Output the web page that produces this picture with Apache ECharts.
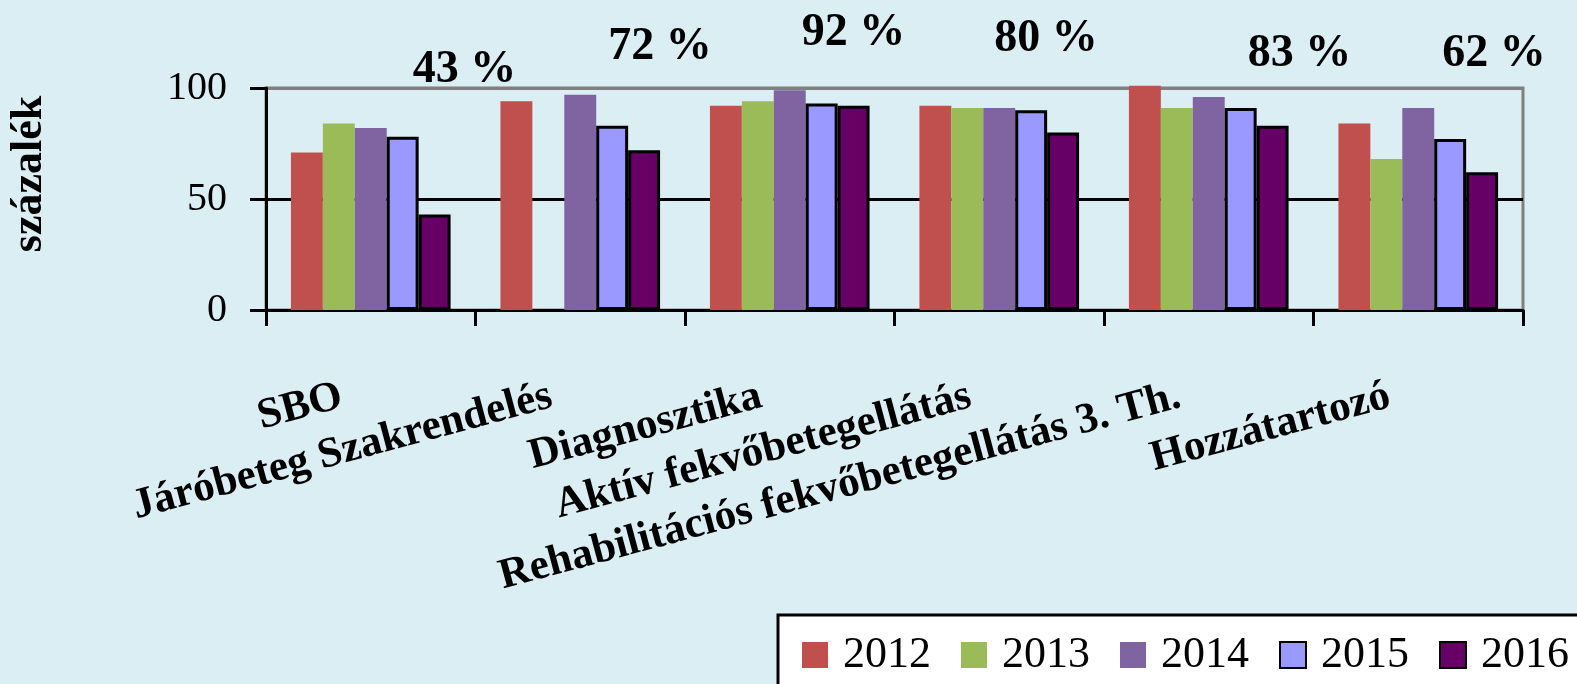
<!DOCTYPE html>
<html>
<head>
<meta charset="utf-8">
<script src="https://cdn.jsdelivr.net/npm/echarts@6/dist/echarts.min.js"></script>
<style>
  html, body { margin: 0; padding: 0; background: #dbeef4; }
  #chart { width: 1577px; height: 684px; }
</style>
</head>
<body>
<div id="chart"></div>
<script>
// kategóriák és évek
const categories = [
  "SBO",
  "Járóbeteg Szakrendelés",
  "Diagnosztika",
  "Aktív fekvőbetegellátás",
  "Rehabilitációs fekvőbetegellátás 3. Th.",
  "Hozzátartozó",
];
const years = ["2012", "2013", "2014", "2015", "2016"];
const v2012 = [71, 94, 92, 92, 101, 84];
const v2013 = [84, "-", 94, 91, 91, 68];
const v2014 = [82, 97, 99, 91, 96, 91];
const v2015 = [78, 83, 93, 90, 91, 77];
const v2016 = [43, 72, 92, 80, 83, 62];
const yTicks = [0, 50, 100];

// a % feliratok eltolása (csak stílus)
const labelOffsets = [[30, -116], [16, -75], [0, -45], [-17, -65], [27, -44], [12, -90]];

const serif = "Liberation Serif";
const colors = ["#c0504d", "#9bbb59", "#8064a2", "#9999ff", "#660066"];
const values = [v2012, v2013, v2014, v2015, v2016];

let myChart = echarts.init(document.getElementById("chart"));

let series = years.map((y, i) => {
  let s = {
    type: "bar",
    name: y,
    data: values[i],
    barGap: 0,
    barCategoryGap: "23.8%",
    clip: false,
    itemStyle: { color: colors[i] },
  };
  // 2015 és 2016 fekete kerettel
  if (i >= 3) {
    s.itemStyle.borderColor = "#000";
    s.itemStyle.borderWidth = 3;
  }
  if (i === 4) {
    s.data = v2016.map((v, k) => ({
      value: v,
      label: { offset: labelOffsets[k] },
    }));
    s.label = {
      show: true,
      position: "top",
      formatter: "{c} %",
      fontFamily: serif,
      fontWeight: "bold",
      fontSize: 46,
      color: "#000",
    };
  }
  return s;
});

myChart.setOption({
  backgroundColor: "#dbeef4",
  animation: false,
  textStyle: { fontFamily: serif },
  grid: {
    left: 263,
    right: 54,
    top: 88,
    bottom: 374,
    show: true,
    borderColor: "#808080",
    borderWidth: 3,
    backgroundColor: "transparent",
  },
  legend: {
    data: years,
    left: 778,
    top: 615,
    width: 840,
    padding: [18, 30, 40, 24],
    backgroundColor: "#fff",
    borderColor: "#000",
    borderWidth: 3,
    borderRadius: 0,
    itemWidth: 26,
    itemHeight: 26,
    itemGap: 30,
    icon: "rect",
    textStyle: {
      fontFamily: serif,
      fontSize: 44,
      color: "#000",
      padding: [0, 0, 0, 10],
    },
  },
  xAxis: {
    type: "category",
    data: categories,
    boundaryGap: true,
    axisLine: { lineStyle: { color: "#000", width: 3 } },
    axisTick: { show: true, length: 16, lineStyle: { color: "#000", width: 3 } },
    axisLabel: {
      interval: 0,
      rotate: 15,
      margin: 78,
      padding: [0, 30, 0, 0],
      fontFamily: serif,
      fontWeight: "bold",
      fontSize: 43,
      color: "#000",
    },
  },
  yAxis: {
    type: "value",
    min: yTicks[0],
    max: yTicks[yTicks.length - 1],
    interval: 50,
    name: "százalék",
    nameLocation: "middle",
    nameRotate: 90,
    nameGap: 214,
    nameTextStyle: {
      fontFamily: serif,
      fontWeight: "bold",
      fontSize: 44,
      color: "#000",
      padding: [0, 0, 0, 50],
    },
    axisLine: { show: true, lineStyle: { color: "#000", width: 3 } },
    axisTick: { show: true, length: 16, lineStyle: { color: "#000", width: 3 } },
    splitLine: {
      show: true,
      lineStyle: { color: ["#000", "#000", "#808080"], width: 3 },
    },
    axisLabel: {
      margin: 39,
      fontFamily: serif,
      fontSize: 40,
      color: "#000",
    },
  },
  series: series,
});

window.onresize = myChart.resize;
</script>
</body>
</html>
